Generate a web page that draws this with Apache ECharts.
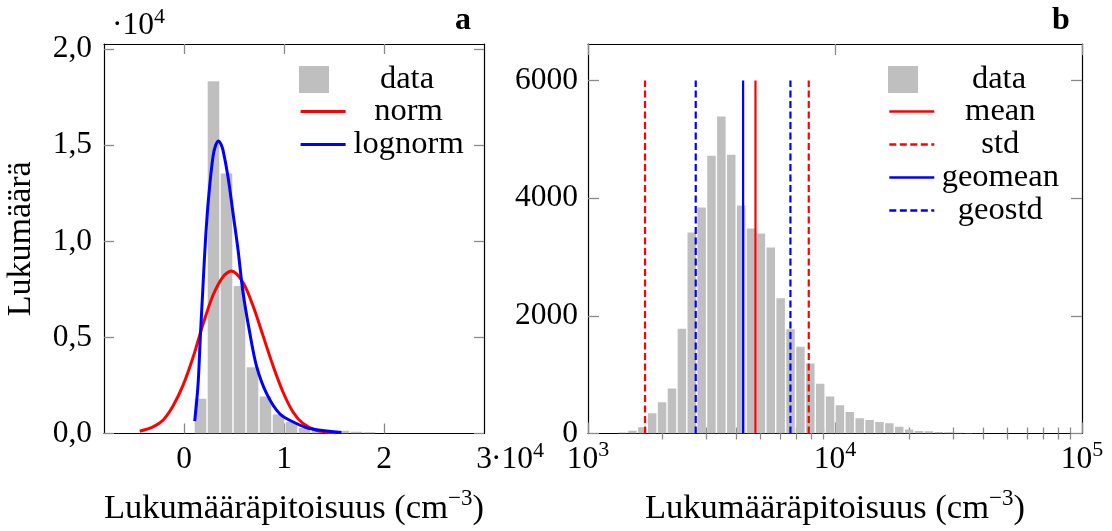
<!DOCTYPE html>
<html><head><meta charset="utf-8">
<script src="https://cdn.jsdelivr.net/npm/echarts@6/dist/echarts.min.js"></script>
<style>html,body{margin:0;padding:0;background:#fff}#c{width:1112px;height:531px}</style>
</head><body><div id="c"></div>
<script>
// ---------- data (panel a: linear, panel b: logarithmic) ----------
const histAEdges = [1000, 2300, 3600, 4900, 6200, 7500, 8800, 10100, 11400, 12700, 14000, 15300, 16600, 17900, 19200];
const histACounts = [1810, 18320, 13520, 7670, 3450, 1930, 990, 600, 290, 170, 120, 140, 90, 60];
const normX = [-4430, -3100, -2100, -1100, -100, 900, 1900, 2900, 3900, 4740, 5900, 6900, 7900, 8900, 9900, 10900, 11900, 13200, 15200];
const normY = [120, 350, 690, 1430, 2500, 3950, 5680, 7190, 8150, 8450, 7850, 6640, 5090, 3530, 2160, 1120, 520, 170, 40];
const lognormX = [1070, 1400, 1640, 1900, 2170, 2500, 2900, 3170, 3470, 3670, 3900, 4400, 4900, 5400, 5900, 6570, 7240, 8240, 9570, 11240, 12570, 15740];
const lognormY = [640, 2500, 5090, 7670, 10260, 12500, 14400, 15000, 15220, 15080, 14740, 13360, 11470, 9570, 7330, 5260, 3530, 2100, 1030, 520, 260, 50];

const histBEdges = [1318, 1445, 1585, 1738, 1905, 2089, 2291, 2512, 2754, 3020, 3311, 3631, 3981, 4365, 4786, 5248, 5754, 6310, 6918, 7586, 8318, 9120, 10000, 10965, 12023, 13183, 14454, 15849, 17378, 19055, 20893, 22909, 25119, 27542, 30200, 33113, 36308, 39811];
const histBCounts = [15, 48, 105, 345, 530, 766, 1780, 3415, 3843, 4722, 5388, 4739, 3877, 3483, 3398, 3161, 2300, 1770, 1476, 1189, 845, 628, 480, 365, 260, 228, 197, 176, 115, 70, 44, 38, 26, 20, 13, 9, 5];
const meanValue = 4765;
const stdBounds = [1702, 7830];
const geomeanValue = 4246;
const geostdBounds = [2730, 6600];
const vlineTop = 6000;

const yTicksA = [0, 5000, 10000, 15000, 20000];
const xTicksA = [0, 10000, 20000, 30000];
const yTicksB = [0, 2000, 4000, 6000];
const xMajorB = [1000, 10000, 100000];
const xMinorB = [2000, 3000, 4000, 5000, 6000, 7000, 8000, 9000, 20000, 30000, 40000, 50000, 60000, 70000, 80000, 90000];

// ---------- styling ----------
const FONT = '"Liberation Serif", serif';
const GRAY = '#bfbfbf';
const TICK = '#8a8a8a';
const FS = 31.5;
const LFS = 32.5;

function pairs(xs, ys) { return xs.map((x, i) => [x, ys[i]]); }
function bins(edges, counts) { return counts.map((c, i) => [edges[i], edges[i + 1], c]); }
function barRender(params, api) {
  const lo = api.value(0), hi = api.value(1), v = api.value(2);
  const p0 = api.coord([lo, v]);
  const p1 = api.coord([hi, 0]);
  const gap = 1.4;
  return { type: 'rect', shape: { x: p0[0] + gap / 2, y: p0[1], width: p1[0] - p0[0] - gap, height: p1[1] - p0[1] },
           style: { fill: GRAY } };
}
const supRich = {
  b: { fontFamily: FONT, fontSize: FS, color: '#000', lineHeight: 40 },
  s: { fontFamily: FONT, fontSize: 22, color: '#000', lineHeight: 22, verticalAlign: 'top' }
};
const nameRich = {
  n: { fontFamily: FONT, fontSize: 34.5, color: '#000', lineHeight: 42 },
  s: { fontFamily: FONT, fontSize: 23, color: '#000', lineHeight: 23, verticalAlign: 'top' }
};
const axisLine = { show: true, onZero: false, lineStyle: { color: '#000', width: 1.2 } };
function tick(vals, len) { return { show: true, inside: true, length: len, customValues: vals, lineStyle: { color: TICK, width: 1.3 } }; }
const noLabel = { show: false };
const noSplit = { show: false };

const xTitle = '{n|Lukumääräpitoisuus (cm}{s|−3}{n|)}';
function legendText(w) {
  return { rich: { t: { width: w, align: 'center', fontFamily: FONT, fontSize: LFS, color: '#000', lineHeight: 30 } } };
}

const option = {
  animation: false,
  backgroundColor: '#fff',
  grid: [
    { left: 104, top: 44, width: 380, height: 391 },
    { left: 588, top: 44, width: 494, height: 392 }
  ],
  xAxis: [
    { gridIndex: 0, type: 'value', min: -8000, max: 30000, position: 'bottom', axisLine, splitLine: noSplit,
      axisTick: tick([0, 10000, 20000], 10),
      axisLabel: { customValues: xTicksA, formatter: v => String(v / 10000), fontFamily: FONT, fontSize: FS, color: '#000', margin: 10 },
      name: xTitle, nameLocation: 'middle', nameGap: 54, nameTextStyle: { rich: nameRich } },
    { gridIndex: 0, type: 'value', min: -8000, max: 30000, position: 'top', axisLine, splitLine: noSplit,
      axisTick: tick([0, 10000, 20000], 10), axisLabel: noLabel },
    { gridIndex: 1, type: 'log', logBase: 10, min: 1000, max: 100000, position: 'bottom', axisLine, splitLine: noSplit,
      axisTick: tick(xMajorB, 11),
      axisLabel: { customValues: xMajorB, formatter: v => '{b|10}{s|' + Math.round(Math.log10(v)) + '}', rich: supRich, margin: 6 },
      name: xTitle, nameLocation: 'middle', nameGap: 54, nameTextStyle: { rich: nameRich } },
    { gridIndex: 1, type: 'log', logBase: 10, min: 1000, max: 100000, position: 'bottom', axisLine: { show: false }, splitLine: noSplit,
      axisTick: tick(xMinorB, 6), axisLabel: noLabel },
    { gridIndex: 1, type: 'log', logBase: 10, min: 1000, max: 100000, position: 'top', axisLine, splitLine: noSplit,
      axisTick: tick(xMajorB, 11), axisLabel: noLabel },
    { gridIndex: 1, type: 'log', logBase: 10, min: 1000, max: 100000, position: 'top', axisLine: { show: false }, splitLine: noSplit,
      axisTick: tick(xMinorB, 6), axisLabel: noLabel }
  ],
  yAxis: [
    { gridIndex: 0, type: 'value', min: 0, max: 20260, position: 'left', axisLine, splitLine: noSplit,
      axisTick: tick(yTicksA, 10),
      axisLabel: { customValues: yTicksA, formatter: v => (v / 10000).toFixed(1).replace('.', ','), fontFamily: FONT, fontSize: FS, color: '#000', margin: 12 },
      name: 'Lukumäärä', nameLocation: 'middle', nameGap: 66, nameRotate: 90,
      nameTextStyle: { fontFamily: FONT, fontSize: 34, color: '#000' } },
    { gridIndex: 0, type: 'value', min: 0, max: 20260, position: 'right', axisLine, splitLine: noSplit,
      axisTick: tick(yTicksA, 10), axisLabel: noLabel },
    { gridIndex: 1, type: 'value', min: 0, max: 6620, position: 'left', axisLine, splitLine: noSplit,
      axisTick: tick(yTicksB, 11),
      axisLabel: { customValues: yTicksB, formatter: v => String(v), fontFamily: FONT, fontSize: FS, color: '#000', margin: 10 } },
    { gridIndex: 1, type: 'value', min: 0, max: 6620, position: 'right', axisLine, splitLine: noSplit,
      axisTick: tick(yTicksB, 11), axisLabel: noLabel }
  ],
  legend: [
    { left: 299, top: 63, padding: 0, itemWidth: 30, itemHeight: 27, selectedMode: false, data: [{ name: 'data', icon: 'rect' }],
      formatter: n => '{t|' + n + '}', textStyle: legendText(146) },
    { left: 299, top: 95, padding: 0, orient: 'vertical', itemGap: 0, itemWidth: 45, itemHeight: 30, selectedMode: false,
      itemStyle: { opacity: 0 }, lineStyle: { width: 3.2 }, data: ['norm', 'lognorm'],
      formatter: n => '{t|' + n + '}', textStyle: legendText(116) },
    { left: 888, top: 63, padding: 0, itemWidth: 30, itemHeight: 27, selectedMode: false, data: [{ name: 'data', icon: 'rect' }],
      formatter: n => '{t|' + n + '}', textStyle: legendText(152) },
    { left: 888, top: 95, padding: 0, orient: 'vertical', itemGap: 0, itemWidth: 45, itemHeight: 30, selectedMode: false,
      itemStyle: { opacity: 0 }, lineStyle: { width: 2.6 }, data: ['mean', 'std', 'geomean', 'geostd'],
      formatter: n => '{t|' + n + '}', textStyle: legendText(122) }
  ],
  graphic: [
    { type: 'text', x: 112, y: 6, style: { text: '{b|·10}{s|4}', rich: supRich } },
    { type: 'text', x: 491, y: 440, style: { text: '{b|·10}{s|4}', rich: supRich } },
    { type: 'text', x: 463, y: 21, style: { text: 'a', fontFamily: FONT, fontWeight: 'bold', fontSize: 32, fill: '#000', align: 'center', verticalAlign: 'middle' } },
    { type: 'text', x: 1061, y: 21, style: { text: 'b', fontFamily: FONT, fontWeight: 'bold', fontSize: 32, fill: '#000', align: 'center', verticalAlign: 'middle' } }
  ],
  series: [
    { name: 'data', type: 'custom', xAxisIndex: 0, yAxisIndex: 0, renderItem: barRender, clip: true,
      encode: { x: [0, 1], y: 2 }, itemStyle: { color: GRAY }, data: bins(histAEdges, histACounts) },
    { name: 'norm', type: 'line', xAxisIndex: 0, yAxisIndex: 0, symbol: 'none', smooth: 0.3,
      lineStyle: { color: '#ff0000', width: 3 }, itemStyle: { color: '#ff0000' }, data: pairs(normX, normY) },
    { name: 'lognorm', type: 'line', xAxisIndex: 0, yAxisIndex: 0, symbol: 'none', smooth: 0.3,
      lineStyle: { color: '#0000ff', width: 3 }, itemStyle: { color: '#0000ff' }, data: pairs(lognormX, lognormY) },

    { name: 'data', type: 'custom', xAxisIndex: 2, yAxisIndex: 2, renderItem: barRender, clip: true,
      encode: { x: [0, 1], y: 2 }, itemStyle: { color: GRAY }, data: bins(histBEdges, histBCounts) },
    { name: 'mean', type: 'line', xAxisIndex: 2, yAxisIndex: 2, symbol: 'none',
      lineStyle: { color: '#ff0000', width: 2.2 }, itemStyle: { color: '#ff0000' }, data: [[meanValue, 0], [meanValue, vlineTop]] },
    { name: 'std', type: 'line', xAxisIndex: 2, yAxisIndex: 2, symbol: 'none',
      lineStyle: { color: '#ff0000', width: 2.2, type: [7, 3.5] }, itemStyle: { color: '#ff0000' }, data: [[stdBounds[0], 0], [stdBounds[0], vlineTop]] },
    { name: 'std', type: 'line', xAxisIndex: 2, yAxisIndex: 2, symbol: 'none',
      lineStyle: { color: '#ff0000', width: 2.2, type: [7, 3.5] }, itemStyle: { color: '#ff0000' }, data: [[stdBounds[1], 0], [stdBounds[1], vlineTop]] },
    { name: 'geomean', type: 'line', xAxisIndex: 2, yAxisIndex: 2, symbol: 'none',
      lineStyle: { color: '#0000ff', width: 2.2 }, itemStyle: { color: '#0000ff' }, data: [[geomeanValue, 0], [geomeanValue, vlineTop]] },
    { name: 'geostd', type: 'line', xAxisIndex: 2, yAxisIndex: 2, symbol: 'none',
      lineStyle: { color: '#0000ff', width: 2.2, type: [7, 3.5] }, itemStyle: { color: '#0000ff' }, data: [[geostdBounds[0], 0], [geostdBounds[0], vlineTop]] },
    { name: 'geostd', type: 'line', xAxisIndex: 2, yAxisIndex: 2, symbol: 'none',
      lineStyle: { color: '#0000ff', width: 2.2, type: [7, 3.5] }, itemStyle: { color: '#0000ff' }, data: [[geostdBounds[1], 0], [geostdBounds[1], vlineTop]] }
  ]
};
const chart = echarts.init(document.getElementById('c'), null, { renderer: 'canvas' });
chart.setOption(option);
</script></body></html>
